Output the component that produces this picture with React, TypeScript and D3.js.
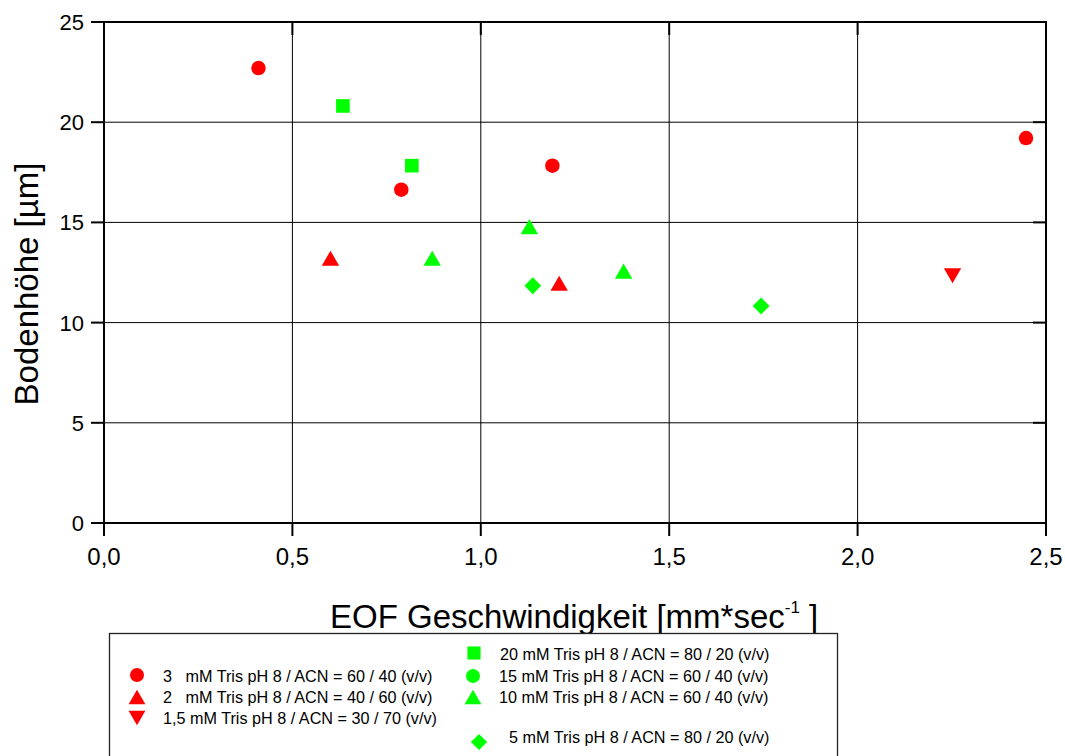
import React from 'react'
import * as d3 from 'd3'

// series: 3 mM, 2 mM, 1,5 mM (red) / 20, 15, 10, 5 mM (green)
const seriesNames = [
  '3   mM Tris pH 8 / ACN = 60 / 40 (v/v)',
  '2   mM Tris pH 8 / ACN = 40 / 60 (v/v)',
  '1,5 mM Tris pH 8 / ACN = 30 / 70 (v/v)',
  '20 mM Tris pH 8 / ACN = 80 / 20 (v/v)',
  '15 mM Tris pH 8 / ACN = 60 / 40 (v/v)',
  '10 mM Tris pH 8 / ACN = 60 / 40 (v/v)',
  '5 mM Tris pH 8 / ACN = 80 / 20 (v/v)',
]
const seriesShapes = ['circle', 'up', 'down', 'square', 'circle', 'up', 'diamond']
const seriesColors = ['#ff0000', '#ff0000', '#ff0000', '#00ff00', '#00ff00', '#00ff00', '#00ff00']

const eof3mM = [0.41, 0.789, 1.19, 2.447]
const boden3mM = [22.7, 16.63, 17.83, 19.21]
const eof2mM = [0.601, 1.208]
const boden2mM = [13.21, 11.96]
const eof15mM_red = [2.252]
const boden15mM_red = [12.34]
const eof20mM = [0.634, 0.817]
const boden20mM = [20.81, 17.83]
const eof15mM: number[] = []
const boden15mM: number[] = []
const eof10mM = [0.871, 1.129, 1.379]
const boden10mM = [13.21, 14.79, 12.57]
const eof5mM = [1.138, 1.744]
const boden5mM = [11.84, 10.83]

const xs = [eof3mM, eof2mM, eof15mM_red, eof20mM, eof15mM, eof10mM, eof5mM]
const ys = [boden3mM, boden2mM, boden15mM_red, boden20mM, boden15mM, boden10mM, boden5mM]

const xTicks = [0, 0.5, 1.0, 1.5, 2.0, 2.5]
const yTicks = [0, 5, 10, 15, 20, 25]

const FONT = "'Liberation Sans', Arial, sans-serif"

// marker path centred on its bounding box
function markerPath(shape: string, s: number) {
  const p = d3.path()
  if (shape === 'circle') {
    p.arc(0, 0, s * 0.5, 0, Math.PI * 2)
  } else if (shape === 'square') {
    const h = s * 0.47
    p.rect(-h, -h, 2 * h, 2 * h)
  } else if (shape === 'up') {
    const w = s * 0.6, h = s * 0.52
    p.moveTo(0, -h); p.lineTo(w, h); p.lineTo(-w, h); p.closePath()
  } else if (shape === 'down') {
    const w = s * 0.6, h = s * 0.52
    p.moveTo(0, h); p.lineTo(w, -h); p.lineTo(-w, -h); p.closePath()
  } else if (shape === 'diamond') {
    const h = s * 0.58
    p.moveTo(0, -h); p.lineTo(h, 0); p.lineTo(0, h); p.lineTo(-h, 0); p.closePath()
  }
  return p.toString()
}

export default function App() {
  const W = 1065, H = 756
  const x = d3.scaleLinear().domain([0, 2.5]).range([104, 1046])
  const y = d3.scaleLinear().domain([0, 25]).range([523, 22])
  const fmt = (v: number) => d3.format('.1f')(v).replace('.', ',')

  // legend layout: left column rows 0..2, right column rows
  const legendPos = [
    { mx: 137, my: 675, tx: 163, ty: 682 },
    { mx: 137, my: 697, tx: 163, ty: 703 },
    { mx: 137, my: 718, tx: 163, ty: 724 },
    { mx: 474, my: 653, tx: 500, ty: 660 },
    { mx: 473, my: 676, tx: 499, ty: 682 },
    { mx: 473, my: 697, tx: 499, ty: 703 },
    { mx: 479, my: 742, tx: 509, ty: 743 },
  ]

  return (
    <svg width={W} height={H} style={{ position: 'absolute', left: 0, top: 0, background: '#fff' }}
      fontFamily={FONT}>
      {/* grid */}
      {xTicks.slice(1, -1).map(t => (
        <line key={'gx' + t} x1={x(t)} x2={x(t)} y1={y(0)} y2={y(25)} stroke="#000" strokeWidth={1} />
      ))}
      {yTicks.slice(1, -1).map(t => (
        <line key={'gy' + t} x1={x(0)} x2={x(2.5)} y1={y(t)} y2={y(t)} stroke="#000" strokeWidth={1} />
      ))}
      {/* ticks */}
      {xTicks.map(t => (
        <g key={'tx' + t}>
          <line x1={x(t)} x2={x(t)} y1={y(0)} y2={y(0) + 13} stroke="#000" strokeWidth={2} />
          <line x1={x(t)} x2={x(t)} y1={y(25)} y2={y(25) + 13} stroke="#000" strokeWidth={2} />
          <text x={x(t)} y={565} fontSize={24} textAnchor="middle" fill="#000">{fmt(t)}</text>
        </g>
      ))}
      {yTicks.map(t => (
        <g key={'ty' + t}>
          <line x1={x(0) - 13} x2={x(0)} y1={y(t)} y2={y(t)} stroke="#000" strokeWidth={2} />
          <line x1={x(2.5) - 13} x2={x(2.5)} y1={y(t)} y2={y(t)} stroke="#000" strokeWidth={2} />
          <text x={84} y={y(t) + 8} fontSize={22} textAnchor="end" fill="#000">{t}</text>
        </g>
      ))}
      {/* frame */}
      <rect x={x(0)} y={y(25)} width={x(2.5) - x(0)} height={y(0) - y(25)} fill="none" stroke="#000" strokeWidth={2} />

      {/* data */}
      {xs.map((sx, si) => sx.map((v, i) => (
        <path key={si + '-' + i} d={markerPath(seriesShapes[si], 14.5)}
          transform={`translate(${x(v)},${y(ys[si][i])})`} fill={seriesColors[si]} />
      )))}

      {/* axis titles */}
      <text x={330} y={628} fontSize={33} fill="#000">
        EOF Geschwindigkeit [mm*sec
        <tspan dy={-15} fontSize={17}>-1</tspan>
        <tspan dy={15} fontSize={33}>{'\u00a0]'}</tspan>
      </text>
      <text transform="translate(38,284) rotate(-90)" fontSize={33} textAnchor="middle" fill="#000">
        Bodenhöhe [µm]
      </text>

      {/* legend */}
      <rect x={109.5} y={633.5} width={728} height={140} fill="#fff" stroke="#222" strokeWidth={1.3} />
      {seriesNames.map((name, i) => (
        <g key={'lg' + i}>
          <path d={markerPath(seriesShapes[i], 14)} transform={`translate(${legendPos[i].mx},${legendPos[i].my})`}
            fill={seriesColors[i]} />
          <text x={legendPos[i].tx} y={legendPos[i].ty} fontSize={16.2} fill="#000" style={{ whiteSpace: 'pre' }}>
            {name}
          </text>
        </g>
      ))}
    </svg>
  )
}
